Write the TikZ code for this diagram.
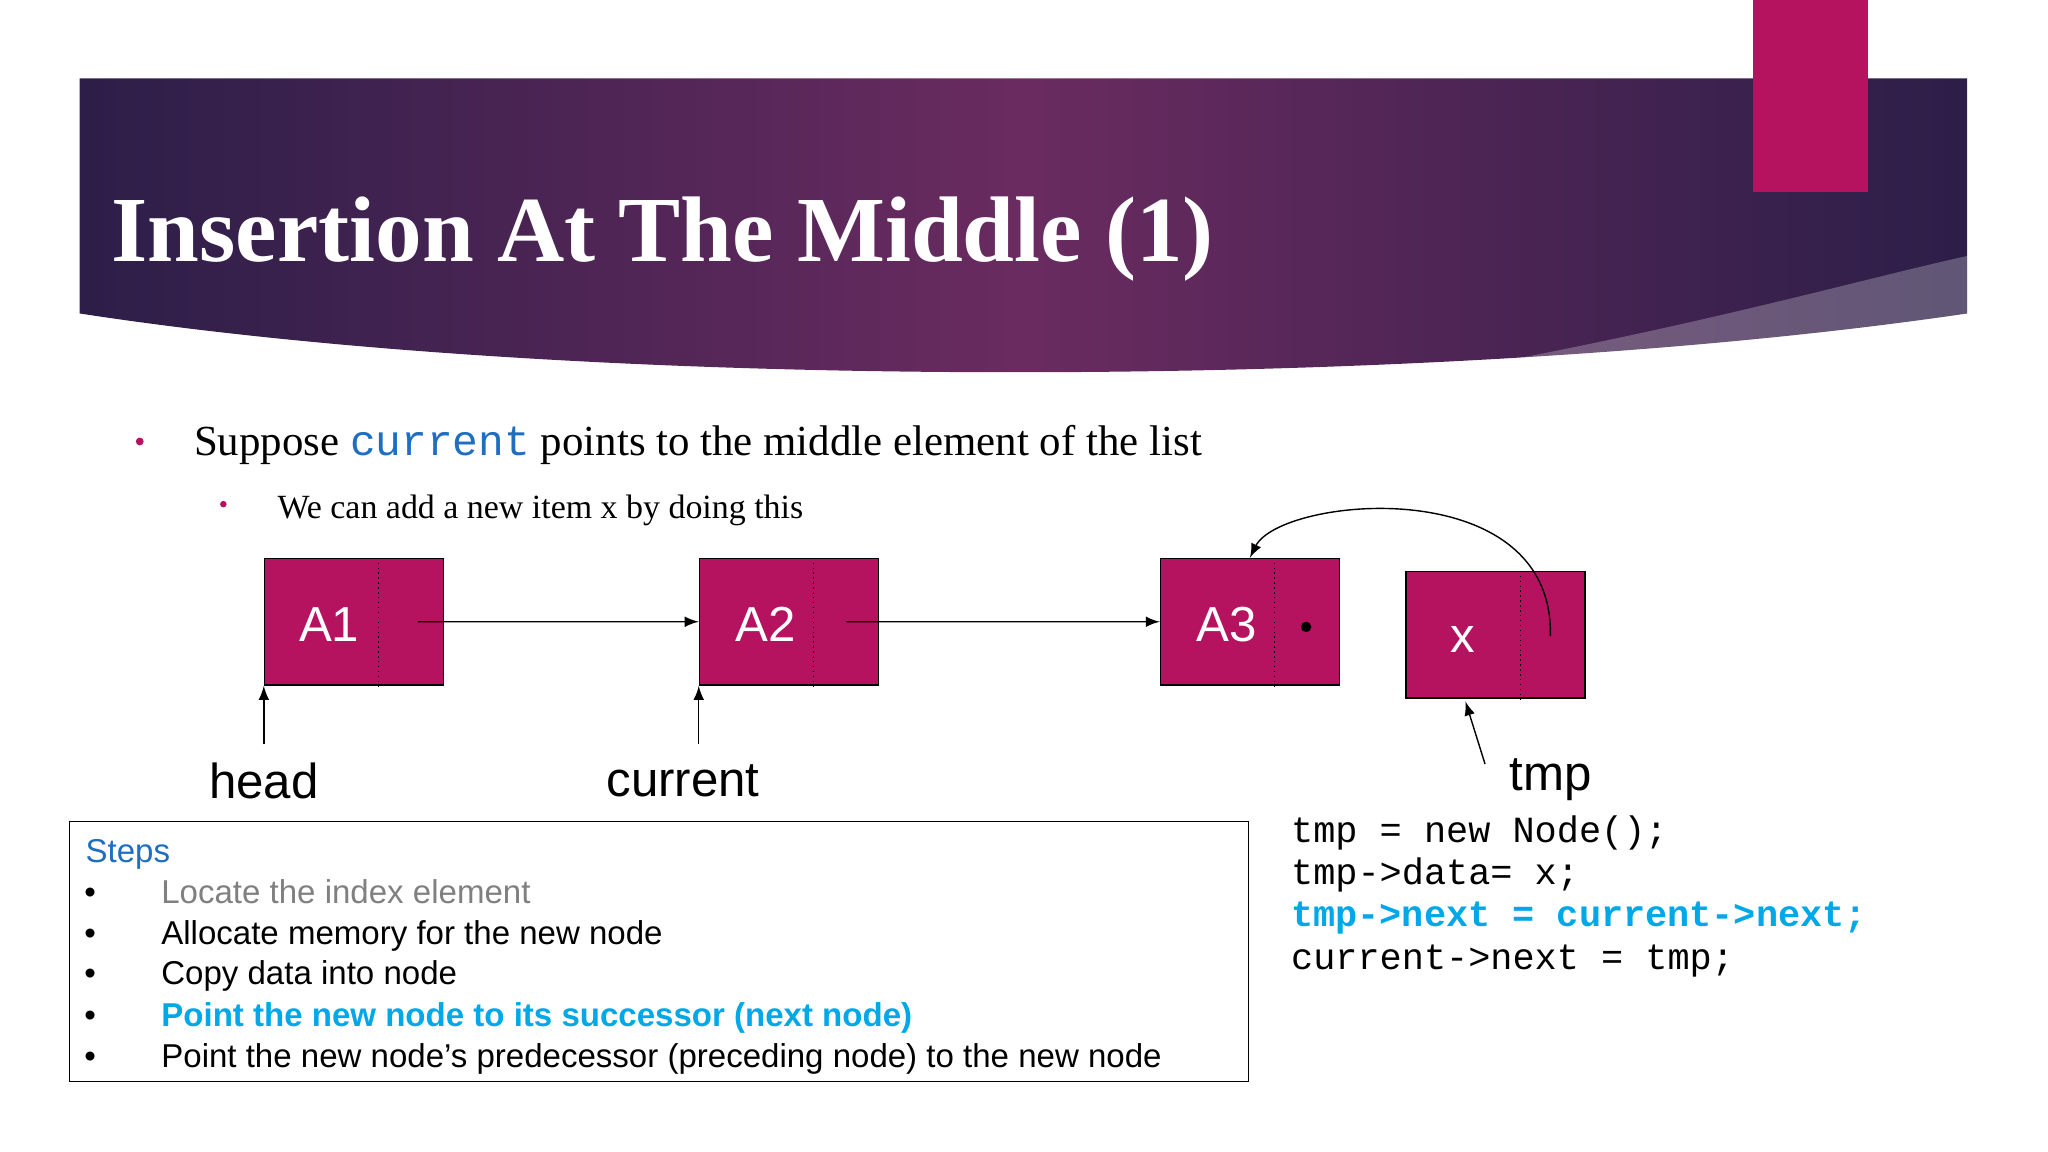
\documentclass[tikz,border=0pt]{standalone}
\usepackage{fontspec}
\setmainfont{Liberation Serif}
\setsansfont{Liberation Sans}
\setmonofont{Liberation Mono}
\usetikzlibrary{positioning}
\definecolor{magen}{HTML}{B5135F}
\definecolor{bandark}{HTML}{2C1E48}
\definecolor{banmid}{HTML}{6A2B60}
\definecolor{stepblue}{HTML}{1F6FC0}
\definecolor{codecyan}{HTML}{00A8E8}
\tikzset{
  cell/.style={draw,fill=magen,minimum width=1.789cm,minimum height=1.267cm,inner sep=0pt},
  lbl/.style={font=\sffamily\fontsize{14}{16}\selectfont},
  val/.style={text=white,font=\sffamily\fontsize{14}{16}\selectfont},
  ptr/.style={-latex,thin},
  stepline/.style={anchor=base west,inner sep=0pt,font=\sffamily\fontsize{9.4}{11}\selectfont},
  codeline/.style={anchor=base west,inner sep=0pt,font=\ttfamily\fontsize{10.5}{12}\selectfont},
}
\begin{document}
\begin{tikzpicture}[x=0.01306cm,y=-0.01306cm]
\useasboundingbox (0,0) rectangle (1568,882);
% banner
\shade[left color=bandark,right color=bandark,middle color=banmid]
  (61,60) -- (1506,60) -- (1506,240) .. controls (1100,300) and (450,300) .. (61,240) -- cycle;
\fill[white,opacity=0.25] (1100,286) .. controls (1300,250) and (1420,215) .. (1506,196) -- (1506,240) .. controls (1350,265) and (1230,280) .. (1100,286) -- cycle;
\fill[magen] (1342,0) rectangle (1430,147);
\node[anchor=base west,text=white,font=\bfseries\fontsize{26.5}{30}\selectfont,inner sep=0pt] (title) at (85,200) {Insertion At The Middle (1)};
% bullets
\fill[magen] (107,338) circle (3);
\node[anchor=base west,inner sep=0pt,font=\fontsize{12.2}{14}\selectfont] (line1) at (148,349) {Suppose \textcolor{stepblue}{\texttt{current}} points to the middle element of the list};
\fill[magen] (171,386) circle (2.5);
\node[anchor=base west,inner sep=0pt,font=\fontsize{9.65}{11}\selectfont] (line2) at (212,397) {We can add a new item x by doing this};
% list cells
\foreach \nm/\xx/\yy in {a1/202/427,a2/535/427,a3/888/427,nx/1076/437} {
  \node[cell,anchor=north west] (\nm) at (\xx,\yy) {};
  \draw[densely dotted] ([xshift=1.149cm]\nm.north west) -- ([xshift=1.149cm]\nm.south west);
}
\node[val] at (252,478) {A1};
\node[val] at (586,478) {A2};
\node[val] at (939,478) {A3};
\node[val] at (1120,490) {x};
\fill (1000,480) circle (4);
\draw[ptr] (320,476) -- (a2.west);
\draw[ptr] (648,476) -- (a3.west);
\draw[ptr] (1187,487) .. controls (1190,360) and (980,380) .. (957,427);
% labels
\node[lbl] (head) at (202,598) {head};
\node[lbl] (cur) at (523,598) {current};
\node[lbl] (tmp) at (1187,597) {tmp};
\draw[ptr] (202,570) -- (a1.south west);
\draw[ptr] (535,570) -- (a2.south west);
\draw[ptr] (1137,585) -- (1122,537);
% steps box
\draw (53,629) rectangle (956,828);
\node[stepline,text=stepblue] at (65,660) {Steps};
\foreach \yy in {692,723,754,786,817}
  \node[stepline] at (64,\yy) {•};
\node[stepline,text=gray] at (123,692) {Locate the index element};
\node[stepline] at (123,723) {Allocate memory for the new node};
\node[stepline] at (123,754) {Copy data into node};
\node[stepline,text=codecyan,font=\sffamily\bfseries\fontsize{9.4}{11}\selectfont] at (123,786) {Point the new node to its successor (next node)};
\node[stepline] at (123,817) {Point the new node’s predecessor (preceding node) to the new node};
% code
\node[codeline] at (988,645) {tmp = new Node();};
\node[codeline] at (988,677) {tmp->data= x;};
\node[codeline,text=codecyan,font=\ttfamily\bfseries\fontsize{10.5}{12}\selectfont] at (988,709) {tmp->next = current->next;};
\node[codeline] at (988,742) {current->next = tmp;};
\end{tikzpicture}
\end{document}
